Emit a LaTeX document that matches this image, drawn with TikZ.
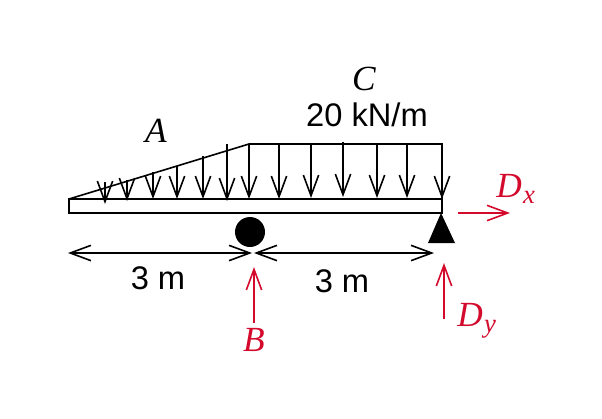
\documentclass[tikz,border=0pt]{standalone}
\usepackage{fontspec}
\setmainfont{Liberation Sans}
\newfontfamily\varfont[Ligatures=TeX]{Liberation Serif}
\usetikzlibrary{arrows.meta}
\definecolor{reactred}{HTML}{D40A2D}
\newcommand{\mainsize}{\fontsize{24.5}{28}\selectfont}
\newcommand{\varsize}{\fontsize{26.5}{28}\selectfont\varfont\itshape}
\newcommand{\subvar}[1]{\lower5pt\hbox{\fontsize{20}{22}\selectfont\kern1pt #1}}
\tikzset{
  x=0.75pt,y=-0.75pt,
  barbtip/.tip={Straight Barb[length=15.5pt,width=11.5pt,line width=1.2pt]},
  member/.style={line width=1.2pt,black},
  tipbarb/.style={-barbtip},
  loadarrow/.style={member,tipbarb},
  dimarrow/.style={member,barbtip-barbtip},
  reaction/.style={line width=1.2pt,reactred,tipbarb},
  sanslabel/.style={anchor=base,inner sep=0pt,text=black,font=\mainsize},
  varlabel/.style={anchor=base,inner sep=0pt,text=black,font=\varsize},
  redlabel/.style={anchor=base,inner sep=0pt,text=reactred,font=\varsize},
}
\begin{document}
\begin{tikzpicture}
\useasboundingbox (0,0) rectangle (602,418);
% beam
\draw[member] (69,199) rectangle (442,213);
% load outline
\coordinate (rampstart) at (69,199);
\coordinate (rampend) at (249,144);
\coordinate (loadend) at (442,144);
\draw[member] (rampstart) -- (rampend) -- (loadend) -- (442,199);
% load arrows
\foreach \n/\x/\t/\b in {a/105/182/204,b/127/180/201,c/153/172/199,d/177/166/199,e/203/156/199,f/227/144/201,g/249/144/199,h/279/144/199,i/311/144/198,j/343/142/197,k/377/144/198,l/407/144/198,m/442/144/199}{
  \coordinate (top\n) at (\x,\t);
  \coordinate (tip\n) at (\x,\b);
  \draw[loadarrow] (top\n) -- (tip\n);
}
% supports
\node[circle,fill=black,inner sep=0pt,minimum size=22.5pt] (roller) at (250,232) {};
\coordinate (apex) at (441,213);
\coordinate (baseL) at (428,243);
\coordinate (baseR) at (455,243);
\fill[black] (apex) -- (baseR) -- (baseL) -- cycle;
% dimensions
\coordinate (dimA) at (68,253);
\coordinate (dimB) at (252,253);
\coordinate (dimBb) at (254,253);
\coordinate (dimC) at (434,253);
\draw[dimarrow] (dimA) -- (dimB);
\draw[dimarrow] (dimBb) -- (dimC);
% reactions
\coordinate (bfrom) at (254,323);
\coordinate (bto) at (254,267);
\draw[reaction] (bfrom) -- (bto);
\coordinate (dyfrom) at (444,319);
\coordinate (dyto) at (444,263);
\draw[reaction] (dyfrom) -- (dyto);
\coordinate (dxfrom) at (458,213);
\coordinate (dxto) at (510,213);
\draw[reaction] (dxfrom) -- (dxto);
% labels
\node[varlabel] (lblA) at (156,142) {A};
\node[varlabel] (lblC) at (364,90) {C};
\node[sanslabel] (lblq) at (367,126) {20 kN/m};
\node[sanslabel] (lbl3a) at (158,289) {3 m};
\node[sanslabel] (lbl3b) at (342,292) {3 m};
\node[redlabel] (lblB) at (254,351) {B};
\node[redlabel,anchor=base west] (lblDx) at (496,197) {D\subvar{x}};
\node[redlabel,anchor=base west] (lblDy) at (457,326) {D\subvar{y}};
\end{tikzpicture}
\end{document}
